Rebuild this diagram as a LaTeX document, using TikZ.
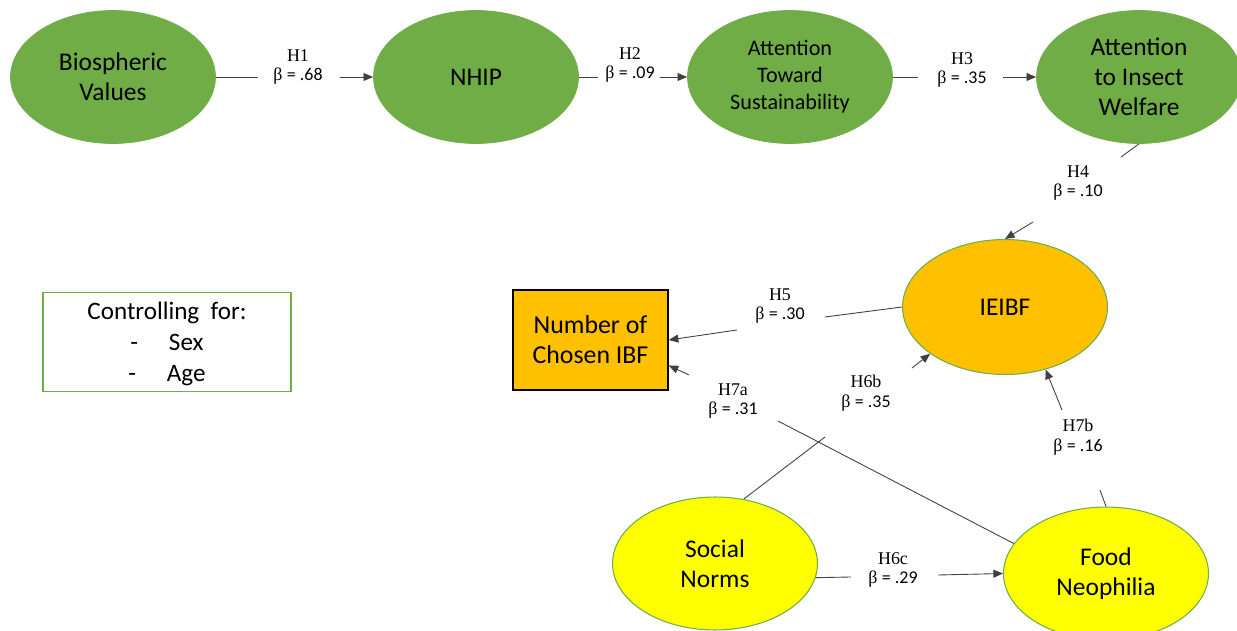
\documentclass[tikz,border=0pt]{standalone}
\usepackage{fontspec}
\setmainfont{Liberation Serif}
\newfontfamily\calib{Carlito}
\usetikzlibrary{shapes.geometric,arrows.meta}
\definecolor{grn}{HTML}{70AD47}
\definecolor{orng}{HTML}{FFC000}
\definecolor{yel}{HTML}{FFFF00}
\tikzset{
  ell/.style={ellipse, minimum width=4.1cm, minimum height=2.66cm, inner sep=0pt, align=center,
    font=\calib\fontsize{14.5}{17}\selectfont},
  gell/.style={ell, fill=grn, draw=grn},
  oell/.style={ell, fill=orng, draw=grn, line width=0.6pt},
  yell/.style={ell, fill=yel, draw=grn, line width=0.6pt},
  lbl/.style={align=center, font=\fontsize{10.2}{11.3}\selectfont, inner sep=0pt},
  ln/.style={draw=black!75, line width=0.5pt},
  arr/.style={ln, -{Triangle[length=5.5pt,width=4.5pt]}},
}
\newcommand{\lab}[2]{#1\\β {\calib= .#2}}
\begin{document}
\begin{tikzpicture}[x=0.02cm,y=-0.02cm]
\useasboundingbox (0,0) rectangle (1237,631);
% nodes
\node[gell] (bio) at (113,77) {Biospheric\\Values};
\node[gell] (nhip) at (476,77) {NHIP};
\node[gell, font=\calib\fontsize{12.6}{15.3}\selectfont] (ats) at (790,77) {Attention\\Toward\\Sustainability};
\node[gell] (aiw) at (1139,77) {Attention\\to Insect\\Welfare};
\node[oell, minimum width=4.1cm, minimum height=2.7cm] (ieibf) at (1005,307) {IEIBF};
\node[draw=black, line width=0.8pt, fill=orng, minimum width=3.1cm, minimum height=2cm, align=center,
  font=\calib\fontsize{14.7}{17}\selectfont] (num) at (590.5,340) {Number of\\Chosen IBF};
\node[draw=grn, line width=0.6pt, minimum width=4.96cm, minimum height=1.88cm, align=center,
  font=\calib\fontsize{14.3}{17.6}\selectfont] (ctrl) at (167,342) {\strut Controlling\ \ for:\\-\quad\ Sex\\-\quad\ Age};
\node[yell] (social) at (715,563.5) {Social\\Norms};
\node[yell] (food) at (1106,573.5) {Food\\Neophilia};
% gap coordinates
\coordinate (h1s) at (258,77); \coordinate (h1e) at (340,77);
\coordinate (h2s) at (598,77); \coordinate (h2e) at (660,77);
\coordinate (h3s) at (918,77); \coordinate (h3e) at (1003,77);
\coordinate (h4s) at (1121,157); \coordinate (h4e) at (1033,222);
\coordinate (h5s) at (825,317); \coordinate (h5e) at (737,330);
\coordinate (h7as) at (778,421); \coordinate (h7ae) at (689,375);
\coordinate (h6bs) at (825,437); \coordinate (h6be) at (912,368);
\coordinate (h7bs) at (1100,490); \coordinate (h7be) at (1062,410);
\coordinate (h6cs) at (851,577); \coordinate (h6ce) at (938,575);
% connectors
\draw[ln] (bio.east) -- (h1s); \draw[arr] (h1e) -- (nhip.west);
\draw[ln] (nhip.east) -- (h2s); \draw[arr] (h2e) -- (ats.west);
\draw[ln] (ats.east) -- (h3s); \draw[arr] (h3e) -- (aiw.west);
\draw[ln] (aiw.south) -- (h4s); \draw[arr] (h4e) -- (ieibf.north);
\draw[ln] (ieibf.west) -- (h5s); \draw[arr] (h5e) -- (num.east);
\draw[ln] (food.162) -- (h7as); \draw[arr] (h7ae) -- (num.-18);
\draw[ln] (social.66) -- (h6bs); \draw[arr] (h6be) -- (ieibf.212);
\draw[ln] (food.north) -- (h7bs); \draw[arr] (h7be) -- (ieibf.-57);
\draw[ln] (social.-8) -- (h6cs); \draw[arr] (h6ce) -- (food.west);
% labels
\node[lbl] (l1) at (298,67) {\lab{H1}{68}};
\node[lbl] (l2) at (630,65) {\lab{H2}{09}};
\node[lbl] (l3) at (962,70) {\lab{H3}{35}};
\node[lbl] (l4) at (1078,183) {\lab{H4}{10}};
\node[lbl] (l5) at (780,306) {\lab{H5}{30}};
\node[lbl] (l7a) at (733,401) {\lab{H7a}{31}};
\node[lbl] (l6b) at (866,393) {\lab{H6b}{35}};
\node[lbl] (l7b) at (1078,437) {\lab{H7b}{16}};
\node[lbl] (l6c) at (893,570) {\lab{H6c}{29}};
\end{tikzpicture}
\end{document}
